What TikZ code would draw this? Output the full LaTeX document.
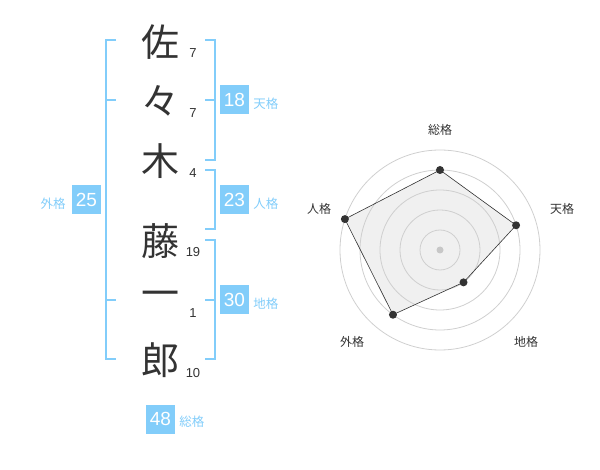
\documentclass[tikz,border=0pt]{standalone}
\usepackage{fontspec}
\usetikzlibrary{positioning}
\setmainfont{Liberation Sans}
\newfontfamily\jp{Noto Sans CJK JP}
\definecolor{kaku}{RGB}{130,205,250}
\definecolor{tinta}{RGB}{51,51,51}
\tikzset{
	kanji/.style={font=\jp\fontsize{38}{38}\selectfont, text=tinta, inner sep=0pt},
	trazos/.style={font=\fontsize{13}{13}\selectfont, text=tinta, inner sep=0pt},
	caja/.style={fill=kaku, text=white, minimum size=29pt, inner sep=0pt, font=\fontsize{19}{19}\selectfont},
	etiqueta/.style={text=kaku, font=\jp\fontsize{12.5}{12.5}\selectfont, inner sep=0pt},
	corchete/.style={draw=kaku, line width=2pt},
	eje/.style={text=tinta, font=\jp\fontsize{12}{12}\selectfont, inner sep=0pt},
	anillo/.style={draw=black!19, line width=0.8pt},
}
\begin{document}
\begin{tikzpicture}[x=1pt, y=-1pt]
	\useasboundingbox (0,0) rectangle (600,470);
	
	% Caracteres del nombre
	\node[kanji] (c1) at (160,42) {佐};
	\node[kanji] (c2) at (160,101) {々};
	\node[kanji] (c3) at (160,161) {木};
	\node[kanji] (c4) at (160,241) {藤};
	\node[kanji] (c5) at (160,299) {一};
	\node[kanji] (c6) at (160,360) {郎};
	
	% Numero de trazos
	\node[trazos] (n1) at (193,53) {7};
	\node[trazos] (n2) at (193,113) {7};
	\node[trazos] (n3) at (193,173) {4};
	\node[trazos] (n4) at (193,252) {19};
	\node[trazos] (n5) at (193,313) {1};
	\node[trazos] (n6) at (193,373) {10};
	
	% Corchete exterior (izquierda)
	\coordinate (gai-a) at (106,40);
	\coordinate (gai-m1) at (106,100);
	\coordinate (gai-m2) at (106,300);
	\coordinate (gai-b) at (106,359);
	\draw[corchete] ([xshift=10pt]gai-a) -- (gai-a) -- (gai-b) -- ([xshift=10pt]gai-b);
	\draw[corchete] (gai-m1) -- ([xshift=10pt]gai-m1);
	\draw[corchete] (gai-m2) -- ([xshift=10pt]gai-m2);
	
	% Corchetes de la derecha
	\coordinate (ten-a) at (215,40);
	\coordinate (ten-m) at (215,100);
	\coordinate (ten-b) at (215,160);
	\draw[corchete] ([xshift=-10pt]ten-a) -- (ten-a) -- (ten-b) -- ([xshift=-10pt]ten-b);
	\draw[corchete] ([xshift=-10pt]ten-m) -- (ten-m);
	\coordinate (jin-a) at (215,170.5);
	\coordinate (jin-b) at (215,229.5);
	\draw[corchete] ([xshift=-10pt]jin-a) -- (jin-a) -- (jin-b) -- ([xshift=-10pt]jin-b);
	\coordinate (chi-a) at (215,240);
	\coordinate (chi-m) at (215,300);
	\coordinate (chi-b) at (215,359.5);
	\draw[corchete] ([xshift=-10pt]chi-a) -- (chi-a) -- (chi-b) -- ([xshift=-10pt]chi-b);
	\draw[corchete] ([xshift=-10pt]chi-m) -- (chi-m);
	
	% Cajas con los valores
	\node[caja] (b-ten) at (234.5,100) {18};
	\node[etiqueta, right=4pt of b-ten, yshift=-4pt] (e-ten) {天格};
	\node[caja] (b-jin) at (234.5,200) {23};
	\node[etiqueta, right=4pt of b-jin, yshift=-4pt] (e-jin) {人格};
	\node[caja] (b-chi) at (234.5,300) {30};
	\node[etiqueta, right=4pt of b-chi, yshift=-4pt] (e-chi) {地格};
	\node[caja] (b-gai) at (86.5,200) {25};
	\node[etiqueta, left=6pt of b-gai, yshift=-4pt] (e-gai) {外格};
	\node[caja] (b-sou) at (160.5,419) {48};
	\node[etiqueta, right=4pt of b-sou, yshift=-3pt] (e-sou) {総格};
	
	% Grafico radial
	\begin{scope}[shift={(440,250)}, y=1pt]
		\coordinate (p-sou) at (90:80);
		\coordinate (p-ten) at (18:80);
		\coordinate (p-chi) at (-54:40);
		\coordinate (p-gai) at (-126:80);
		\coordinate (p-jin) at (162:100);
		\fill[black!6] (p-sou) -- (p-ten) -- (p-chi) -- (p-gai) -- (p-jin) -- cycle;
		\draw[anillo] (0,0) circle (20);
		\draw[anillo] (0,0) circle (40);
		\draw[anillo] (0,0) circle (60);
		\draw[anillo] (0,0) circle (80);
		\draw[anillo] (0,0) circle (100);
		\fill[black!22] (0,0) circle (3.5);
		\draw[tinta, line width=0.6pt] (p-sou) -- (p-ten) -- (p-chi) -- (p-gai) -- (p-jin) -- cycle;
		\fill[tinta] (p-sou) circle (4);
		\fill[tinta] (p-ten) circle (4);
		\fill[tinta] (p-chi) circle (4);
		\fill[tinta] (p-gai) circle (4);
		\fill[tinta] (p-jin) circle (4);
		% Nombres de los ejes
		\node[eje] (l-sou) at (0,120) {総格};
		\node[eje] (l-ten) at (122,41) {天格};
		\node[eje] (l-chi) at (86,-92) {地格};
		\node[eje] (l-gai) at (-88,-92) {外格};
		\node[eje] (l-jin) at (-121,41) {人格};
	\end{scope}
\end{tikzpicture}
\end{document}
